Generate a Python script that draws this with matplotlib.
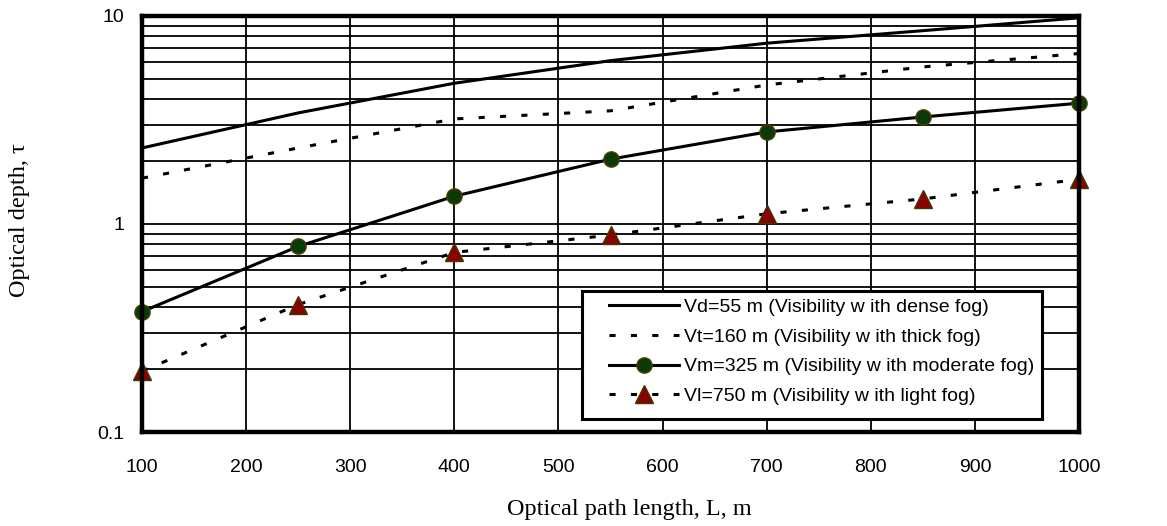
import matplotlib
matplotlib.use('Agg')
import matplotlib.pyplot as plt
from matplotlib.patches import Rectangle
from matplotlib.ticker import LogLocator, FixedLocator, NullFormatter

# path length, m
L = [100, 250, 400, 550, 700, 850, 1000]

# optical depth
tau_dense = [2.32, 3.42, 4.75, 6.1, 7.4, 8.5, 9.8]
tau_thick = [1.66, 2.32, 3.2, 3.5, 4.66, 5.69, 6.6]
tau_moderate = [0.379, 0.78, 1.36, 2.05, 2.77, 3.27, 3.81]
tau_light = [0.196, 0.41, 0.73, 0.885, 1.12, 1.32, 1.64]

labels = ['Vd=55 m (Visibility w ith dense fog)',
          'Vt=160 m (Visibility w ith thick fog)',
          'Vm=325 m (Visibility w ith moderate fog)',
          'Vl=750 m (Visibility w ith light fog)']

x_ticks = [100, 200, 300, 400, 500, 600, 700, 800, 900, 1000]
y_ticks = [0.1, 1, 10]
y_ticklabels = ['0.1', '1', '10']

plt.rcParams['font.family'] = ['Liberation Sans', 'DejaVu Sans']

fig = plt.figure(figsize=(11.67, 5.26), dpi=100)
ax = fig.add_axes([0.1217, 0.1787, 0.8029, 0.7909])

lw = 2.2
dash = (0, (2, 5))
ax.plot(L, tau_dense, color='black', lw=lw, label=labels[0], zorder=3)
ax.plot(L, tau_thick, color='black', lw=lw, ls=dash, label=labels[1], zorder=3)
ax.plot(L, tau_moderate, color='black', lw=lw, marker='o', ms=11,
        mfc='#0a3a0a', mec='#4a4200', mew=1.0, label=labels[2],
        clip_on=False, zorder=4)
ax.plot(L, tau_light, color='black', lw=lw, ls=dash, marker='^', ms=13,
        mfc='#8b0000', mec='#3d3a00', mew=1.0, label=labels[3],
        clip_on=False, zorder=4)

ax.set_yscale('log')
ax.set_xlim(100, 1000)
ax.set_ylim(0.1, 10)

ax.xaxis.set_major_locator(FixedLocator(x_ticks))
ax.yaxis.set_major_locator(FixedLocator(y_ticks))
ax.set_yticklabels(y_ticklabels)
ax.yaxis.set_minor_locator(LogLocator(base=10, subs=range(2, 10)))
ax.yaxis.set_minor_formatter(NullFormatter())

ax.grid(True, which='major', axis='both', color='black', lw=1.3, zorder=1)
ax.grid(True, which='minor', axis='y', color='black', lw=1.3, zorder=1)
ax.set_axisbelow(True)

ax.tick_params(axis='both', which='both', length=0, labelsize=14)
ax.tick_params(axis='x', pad=19.5)
ax.tick_params(axis='y', pad=12.5)

for sp in ax.spines.values():
    sp.set_linewidth(3.2)
    sp.set_zorder(5)

fig.text(629 / 1167, 1 - 510 / 526, 'Optical path length, L, m',
         family='Liberation Serif', fontsize=17.5, ha='center', va='center')
fig.text(20 / 1167, 1 - 220 / 526, 'Optical depth, \u03c4',
         family='Liberation Serif', fontsize=17.5, ha='center', va='center',
         rotation=90)

# legend box drawn by hand so it gets the wide padding of the original
box = Rectangle((0.4696, 0.0313), 0.4909, 0.3076, transform=ax.transAxes,
                facecolor='white', edgecolor='black', lw=2.2, zorder=6)
ax.add_patch(box)
leg = ax.legend(loc='upper left', bbox_to_anchor=(0.4984, 0.322),
                borderaxespad=0, borderpad=0, fontsize=14, frameon=False,
                handlelength=3.6, handletextpad=0.25, labelspacing=0.63)
leg.set_zorder(7)

fig.savefig('out.png', dpi=100)
